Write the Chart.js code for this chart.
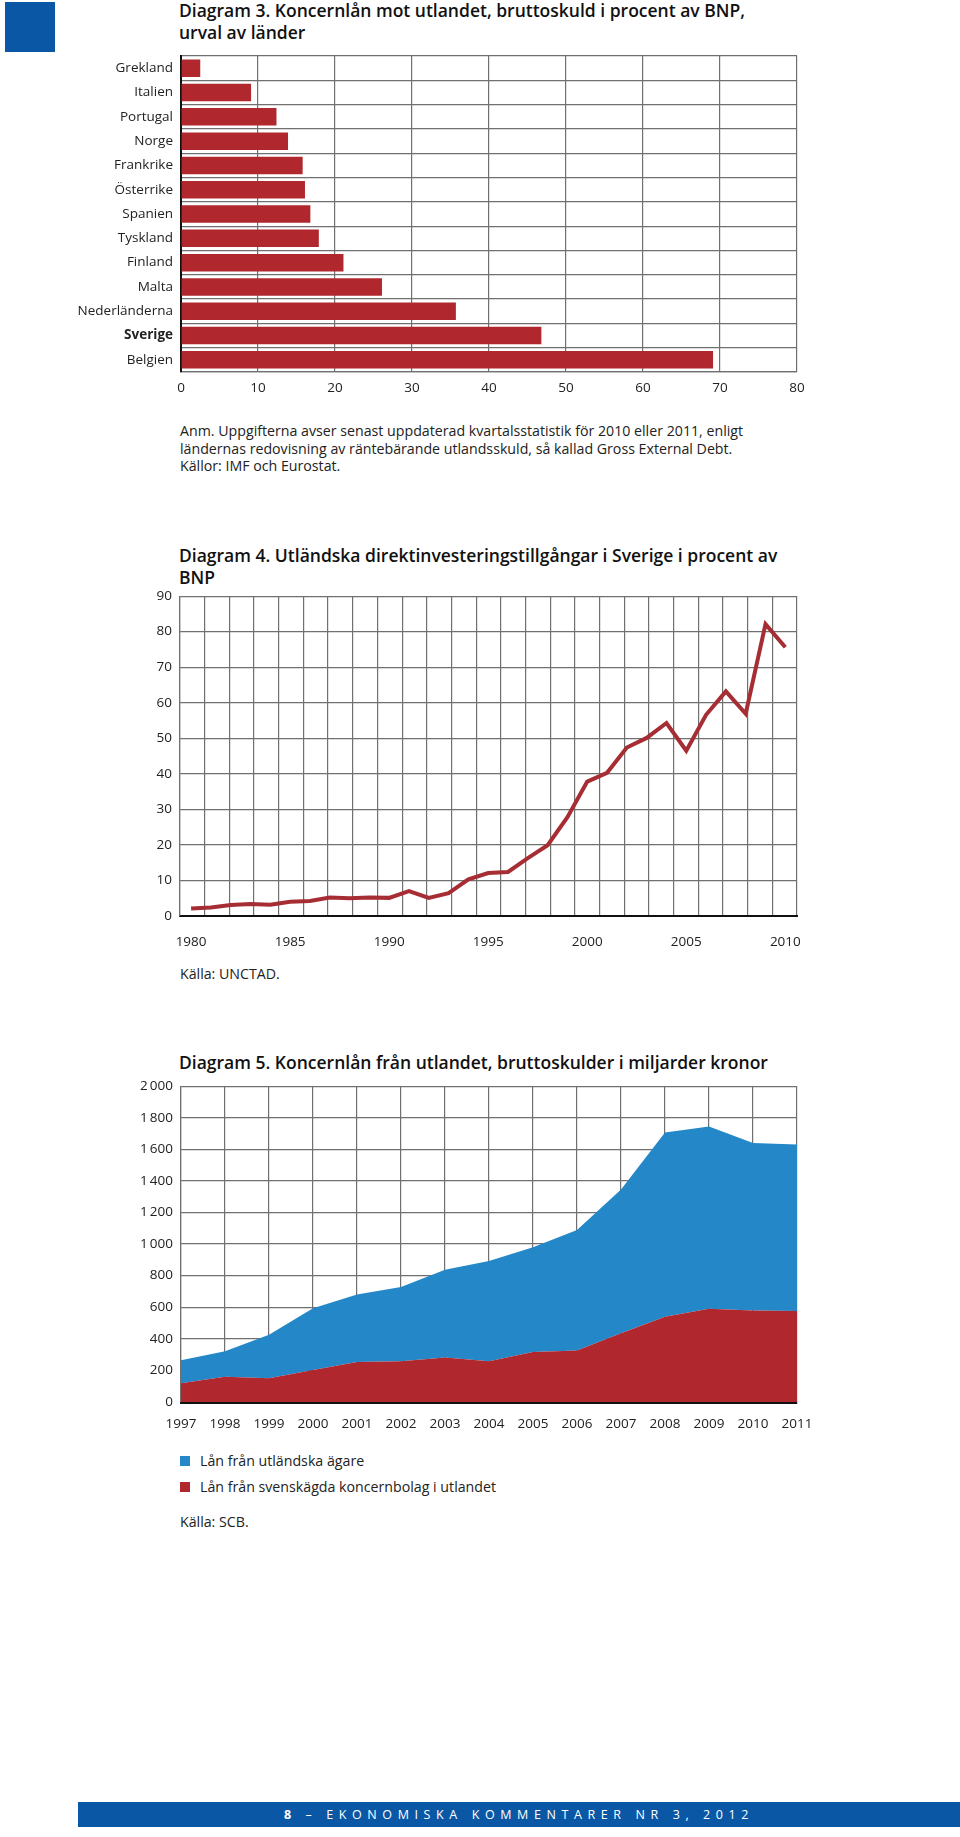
<!DOCTYPE html>
<html>
<head>
<meta charset="utf-8">
<script src="https://cdn.jsdelivr.net/npm/chart.js@4.4.1/dist/chart.umd.min.js"></script>
<style>
  body { margin: 0; background: #fff; font-family: "Open Sans", sans-serif; color: #1a1a1a; }
  #page { position: relative; width: 960px; height: 1837px; overflow: hidden; }
  .abs { position: absolute; }
  .title { font-size: 17.5px; font-weight: 600; line-height: 22px; color: #111; }
  .txt { font-size: 14.2px; line-height: 17.5px; color: #222; }
  .sq { display: inline-block; width: 10px; height: 10px; margin-right: 10px; }
  canvas { position: absolute; left: 0; }
</style>
</head>
<body>
<div id="page">
  <div class="abs" style="left:5px;top:2px;width:50px;height:50px;background:#0a57a5"></div>

  <div class="abs title" style="left:179px;top:-1px;width:700px">Diagram 3. Koncernlån mot utlandet, bruttoskuld i procent av BNP,<br>urval av länder</div>
  <canvas id="c1" width="830" height="370" style="top:40px"></canvas>
  <div class="abs txt" style="left:180px;top:422px;width:700px">Anm. Uppgifterna avser senast uppdaterad kvartalsstatistik för 2010 eller 2011, enligt<br>ländernas redovisning av räntebärande utlandsskuld, så kallad Gross External Debt.<br>Källor: IMF och Eurostat.</div>

  <div class="abs title" style="left:179px;top:544px;width:700px">Diagram 4. Utländska direktinvesteringstillgångar i Sverige i procent av<br>BNP</div>
  <canvas id="c2" width="830" height="370" style="top:580px"></canvas>
  <div class="abs txt" style="left:180px;top:965px">Källa: UNCTAD.</div>

  <div class="abs title" style="left:179px;top:1051px;width:760px">Diagram 5. Koncernlån från utlandet, bruttoskulder i miljarder kronor</div>
  <canvas id="c3" width="830" height="370" style="top:1070px"></canvas>
  <div class="abs txt" style="left:180px;top:1452px"><span class="sq" style="background:#2488c8"></span>Lån från utländska ägare</div>
  <div class="abs txt" style="left:180px;top:1478px"><span class="sq" style="background:#b0282e"></span>Lån från svenskägda koncernbolag i utlandet</div>
  <div class="abs txt" style="left:180px;top:1513px">Källa: SCB.</div>

  <div class="abs" style="left:78px;top:1802px;width:882px;height:25px;background:#0a57a5;color:#fff;font-size:12.5px;line-height:25px;letter-spacing:5.6px;text-align:center">
    <b>8</b> – EKONOMISKA KOMMENTARER NR 3, 2012
  </div>
</div>

<script>
// ---------------- data ----------------
var countries = ["Grekland", "Italien", "Portugal", "Norge", "Frankrike", "Österrike", "Spanien",
  "Tyskland", "Finland", "Malta", "Nederländerna", "Sverige", "Belgien"];
var debtShare = [2.5, 9.1, 12.4, 13.9, 15.8, 16.1, 16.8, 17.9, 21.1, 26.1, 35.7, 46.8, 69.1];

var fdiYears = [1980, 1981, 1982, 1983, 1984, 1985, 1986, 1987, 1988, 1989, 1990, 1991, 1992, 1993, 1994,
  1995, 1996, 1997, 1998, 1999, 2000, 2001, 2002, 2003, 2004, 2005, 2006, 2007, 2008, 2009, 2010];
var fdiShare = [2.1, 2.4, 3.1, 3.4, 3.2, 4.0, 4.2, 5.2, 5.0, 5.2, 5.1, 7.0, 5.1, 6.4, 10.3,
  12.1, 12.4, 16.3, 19.9, 27.8, 37.8, 40.3, 47.4, 50.1, 54.3, 46.5, 56.6, 63.2, 56.9, 82.1, 75.6];
var fdiTicks = [1980, 1985, 1990, 1995, 2000, 2005, 2010];

var loanYears = ["1997", "1998", "1999", "2000", "2001", "2002", "2003", "2004", "2005", "2006",
  "2007", "2008", "2009", "2010", "2011"];
var loanSwedishOwned = [118, 160, 150, 202, 254, 258, 281, 258, 316, 326, 435, 540, 590, 580, 576];
var loanForeignOwners = [146, 162, 276, 391, 426, 470, 557, 634, 663, 763, 910, 1167, 1154, 1060, 1054];

// ---------------- style ----------------
var RED = '#b0282e';
var BLUE = '#2488c8';
var GRID = '#707070';
var FONT = { family: '"Open Sans", sans-serif', size: 13.5 };
Chart.defaults.color = '#222';
Chart.defaults.font = FONT;

function fixW(w) { return function (s) { s.width = w; }; }
function fixH(h) { return function (s) { s.height = h; }; }

// ---------------- Diagram 3 ----------------
new Chart(document.getElementById('c1'), {
  type: 'bar',
  data: {
    labels: countries,
    datasets: [{ data: debtShare, backgroundColor: RED, barPercentage: 0.72, categoryPercentage: 1 }]
  },
  options: {
    indexAxis: 'y',
    responsive: false,
    animation: false,
    layout: { padding: { top: 9, right: 33, left: 0, bottom: 0 } },
    plugins: { legend: { display: false }, tooltip: { enabled: false } },
    scales: {
      x: {
        min: 0, max: 80,
        ticks: { stepSize: 10, padding: 8 },
        grid: { color: GRID, lineWidth: 1.2, drawTicks: false },
        border: { color: GRID, width: 1.2 },
        afterFit: fixH(38)
      },
      y: {
        ticks: {
          padding: 8,
          font: function (ctx) {
            return { family: FONT.family, size: 13.5, weight: countries[ctx.index] === 'Sverige' ? 'bold' : 'normal' };
          }
        },
        grid: { color: GRID, lineWidth: 1.2, drawTicks: false },
        border: { color: '#111', width: 2 },
        afterFit: fixW(181)
      }
    }
  }
});

// ---------------- Diagram 4 ----------------
new Chart(document.getElementById('c2'), {
  type: 'line',
  data: {
    labels: fdiYears,
    datasets: [{
      data: fdiYears.map(function (y, i) { return { x: y, y: fdiShare[i] }; }),
      borderColor: '#a72d35', borderWidth: 4, pointRadius: 0, tension: 0
    }]
  },
  options: {
    responsive: false,
    animation: false,
    layout: { padding: { top: 16, right: 33, left: 0, bottom: 0 } },
    plugins: { legend: { display: false }, tooltip: { enabled: false } },
    scales: {
      x: {
        type: 'linear', min: 1979.44, max: 2010.59,
        afterBuildTicks: function (s) { s.ticks = fdiTicks.map(function (v) { return { value: v }; }); },
        ticks: { padding: 10, callback: function (v) { return String(v); } },
        grid: { display: false },
        border: { color: '#111', width: 2 },
        afterFit: fixH(34)
      },
      xg: {
        type: 'linear', position: 'top', min: 0, max: 25,
        ticks: { display: false, stepSize: 1 },
        grid: { color: GRID, lineWidth: 1.2, drawTicks: false },
        border: { display: false },
        afterFit: fixH(0)
      },
      y: {
        min: 0, max: 90,
        ticks: { stepSize: 10, padding: 8 },
        grid: { color: GRID, lineWidth: 1.2, drawTicks: false },
        border: { color: GRID, width: 1.2 },
        afterFit: fixW(180)
      }
    }
  }
});

// ---------------- Diagram 5 ----------------
function thousands(v) {
  return String(v).replace(/\B(?=(\d{3})+(?!\d))/g, '\u2009');
}
new Chart(document.getElementById('c3'), {
  type: 'line',
  data: {
    labels: loanYears,
    datasets: [
      { label: 'Lån från svenskägda koncernbolag i utlandet', data: loanSwedishOwned,
        backgroundColor: RED, borderWidth: 0, pointRadius: 0, fill: 'origin' },
      { label: 'Lån från utländska ägare', data: loanForeignOwners,
        backgroundColor: BLUE, borderWidth: 0, pointRadius: 0, fill: '-1' }
    ]
  },
  options: {
    responsive: false,
    animation: false,
    layout: { padding: { top: 12, right: 33, left: 0, bottom: 0 } },
    plugins: { legend: { display: false }, tooltip: { enabled: false } },
    scales: {
      x: {
        offset: false,
        ticks: { padding: 14, maxRotation: 0, autoSkip: false },
        grid: { color: GRID, lineWidth: 1.2, drawTicks: false },
        border: { color: '#111', width: 3 },
        afterFit: fixH(38)
      },
      y: {
        stacked: true, min: 0, max: 2000,
        ticks: { stepSize: 200, padding: 8, callback: thousands },
        grid: { color: GRID, lineWidth: 1.2, drawTicks: false },
        border: { color: GRID, width: 1.2 },
        afterFit: fixW(181)
      }
    }
  }
});
</script>
</body>
</html>
